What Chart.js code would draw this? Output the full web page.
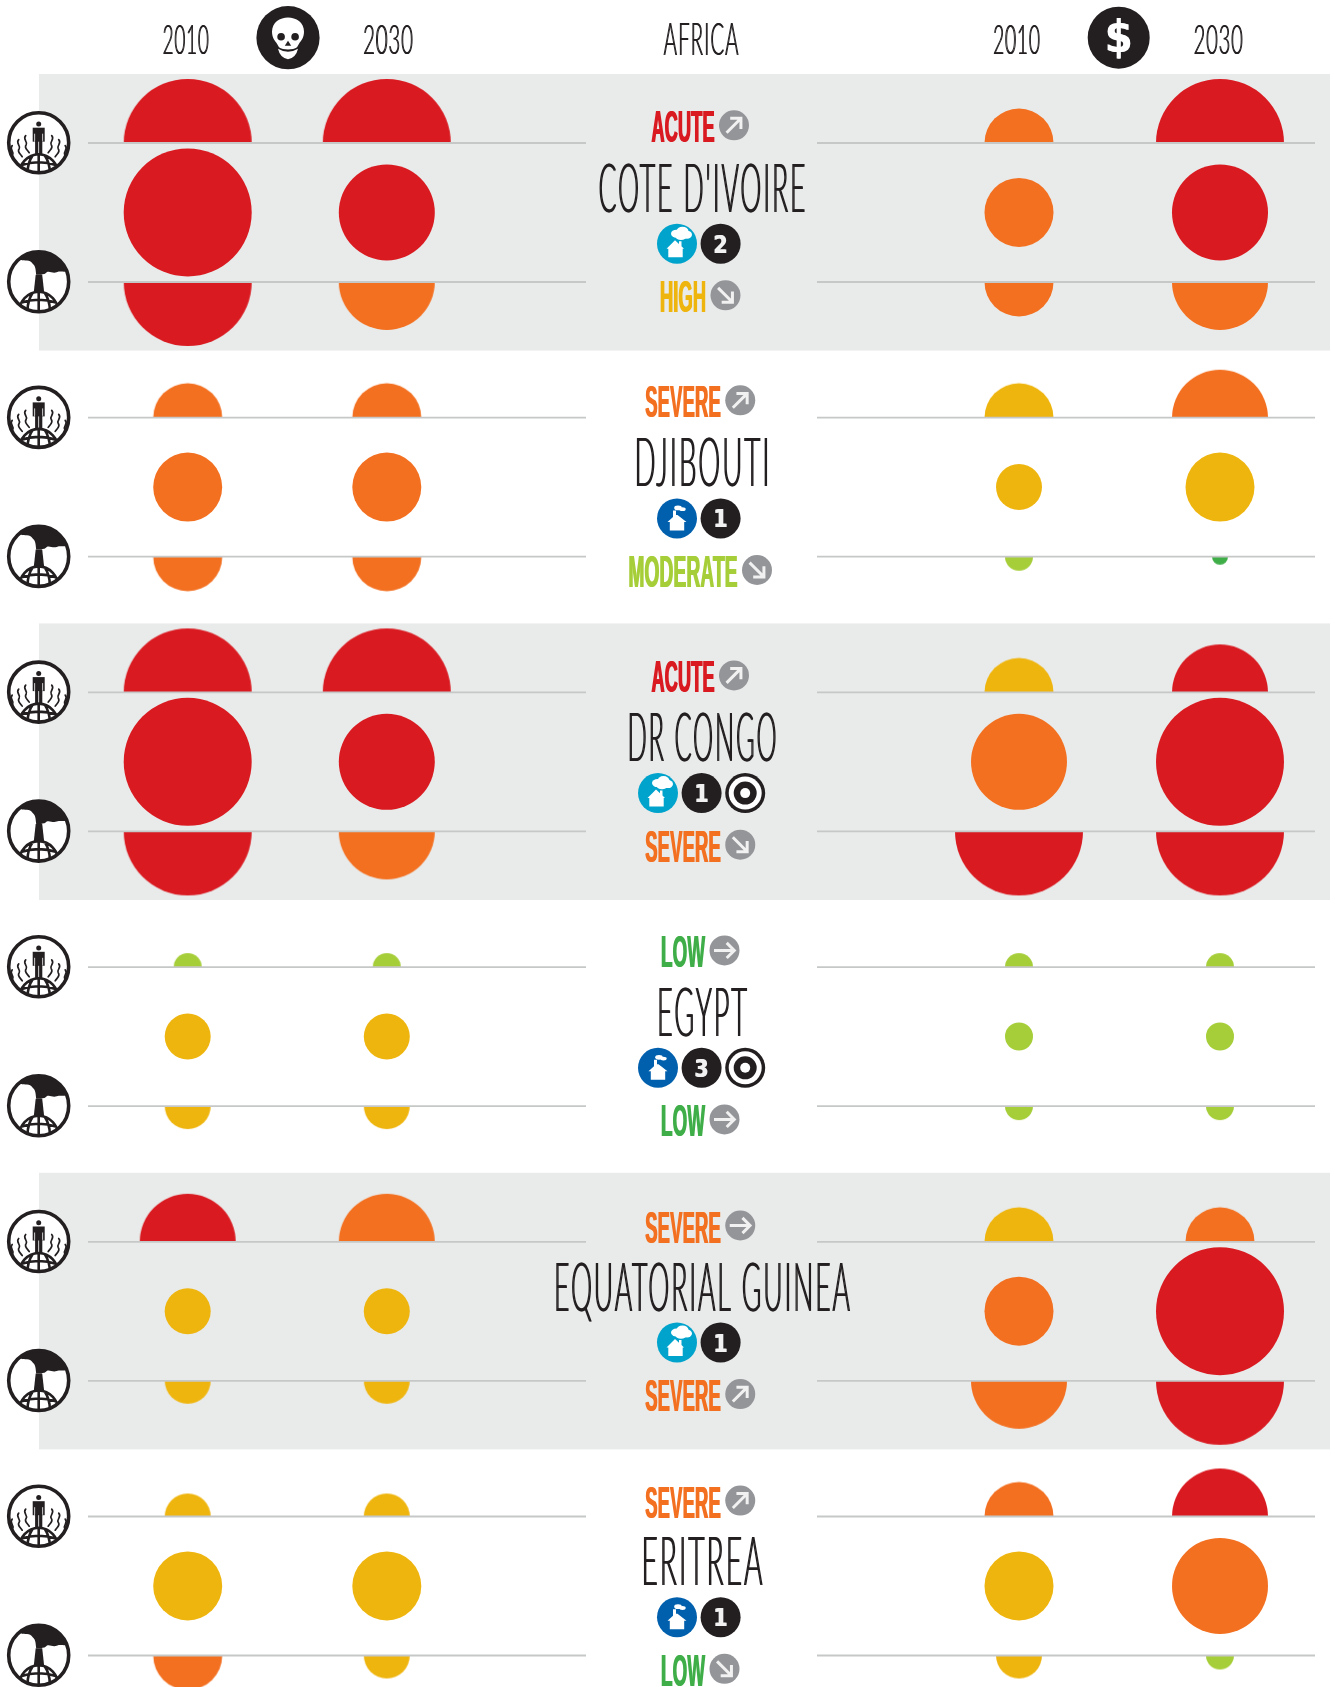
<!DOCTYPE html>
<html>
<head>
<meta charset="utf-8">
<title>Climate vulnerability: Africa</title>
<script src="https://cdn.jsdelivr.net/npm/chart.js@4/dist/chart.umd.min.js"></script>
<style>
html,body{margin:0;padding:0;background:#fff;}
#wrap{position:absolute;left:0;top:0;width:1335px;height:1687px;overflow:hidden;}
canvas{display:block;}
</style>
</head>
<body>
<div id="wrap"><canvas id="c" width="1335" height="1687"></canvas></div>
<script>
// ---------- data ----------
const regionName = 'AFRICA';
const years = ['2010', '2030'];
const countries = ["COTE D'IVOIRE", 'DJIBOUTI', 'DR CONGO', 'EGYPT', 'EQUATORIAL GUINEA', 'ERITREA'];

// Size classes (1 smallest .. 6 largest) and severity (L M H S A) for each country.
const deaths2010ClimateSize = [6, 4, 6, 2, 5, 3];
const deaths2010ClimateLevel = ['A', 'S', 'A', 'M', 'A', 'H'];
const deaths2010TotalSize = [6, 4, 6, 3, 3, 4];
const deaths2010TotalLevel = ['A', 'S', 'A', 'H', 'H', 'H'];
const deaths2010CarbonSize = [6, 4, 6, 3, 3, 4];
const deaths2010CarbonLevel = ['A', 'S', 'A', 'H', 'H', 'S'];

const deaths2030ClimateSize = [6, 4, 6, 2, 5, 3];
const deaths2030ClimateLevel = ['A', 'S', 'A', 'M', 'S', 'H'];
const deaths2030TotalSize = [5, 4, 5, 3, 3, 4];
const deaths2030TotalLevel = ['A', 'S', 'A', 'H', 'H', 'H'];
const deaths2030CarbonSize = [5, 4, 5, 3, 3, 3];
const deaths2030CarbonLevel = ['S', 'S', 'S', 'H', 'H', 'H'];

const cost2010ClimateSize = [4, 4, 4, 2, 4, 4];
const cost2010ClimateLevel = ['S', 'H', 'H', 'M', 'H', 'S'];
const cost2010TotalSize = [4, 3, 5, 2, 4, 4];
const cost2010TotalLevel = ['S', 'H', 'S', 'M', 'S', 'H'];
const cost2010CarbonSize = [4, 2, 6, 2, 5, 3];
const cost2010CarbonLevel = ['S', 'M', 'A', 'M', 'S', 'H'];

const cost2030ClimateSize = [6, 5, 5, 2, 4, 5];
const cost2030ClimateLevel = ['A', 'S', 'A', 'M', 'S', 'A'];
const cost2030TotalSize = [5, 4, 6, 2, 6, 5];
const cost2030TotalLevel = ['A', 'H', 'A', 'M', 'A', 'S'];
const cost2030CarbonSize = [5, 1, 6, 2, 6, 2];
const cost2030CarbonLevel = ['S', 'L', 'A', 'M', 'A', 'M'];

const climateLabel = ['ACUTE', 'SEVERE', 'ACUTE', 'LOW', 'SEVERE', 'SEVERE'];
const climateTrend = ['up', 'up', 'up', 'flat', 'flat', 'up'];
const carbonLabel = ['HIGH', 'MODERATE', 'SEVERE', 'LOW', 'SEVERE', 'LOW'];
const carbonTrend = ['down', 'down', 'down', 'flat', 'up', 'down'];
const houseKind = ['light', 'dark', 'light', 'dark', 'light', 'dark'];
const rankBadge = ['2', '1', '1', '3', '1', '1'];
const targetBadge = [false, false, true, true, false, false];

// ---------- style and layout ----------
const levelColor = {L:'#3FAE49', M:'#A6CE39', H:'#EFB50F', S:'#F37021', A:'#D91A21'};
const labelColor = {ACUTE:'#D91A21', SEVERE:'#F37021', HIGH:'#EFB50F', MODERATE:'#A6CE39', LOW:'#3FAE49'};
const labelWidth = {ACUTE:64, SEVERE:76.5, HIGH:47, MODERATE:110, LOW:45};
const nameWidth = [208, 136, 150, 91, 297, 122];
const sizeRadius = [0, 8, 14, 23, 34.5, 48, 64];
const columnX = [187.7, 386.8, 1019, 1220];
const rowTop = 143, rowStep = 274.7;
const tierDy = {climate:0, total:69.4, carbon:139};
const INK = '#231F20', BAND = '#E9EBEA', RULE = '#C6C8C8';
const THIN = 'Lato,"Liberation Sans Narrow",sans-serif';
const HEAVY = '"Liberation Sans Narrow","Liberation Sans",sans-serif';
const SLAB = '"DejaVu Sans",sans-serif';

const rowY = i => rowTop + rowStep * i;

// half-disc point styles, cached by radius, colour and side
const discCache = {};
function halfDisc(r, color, side) {
  const key = r + color + side;
  if (discCache[key]) return discCache[key];
  const c = document.createElement('canvas');
  c.width = c.height = 2 * Math.ceil(r) + 4;
  const g = c.getContext('2d');
  g.fillStyle = color;
  g.beginPath();
  if (side === 'up') g.arc(c.width/2, c.height/2, r, Math.PI, 2*Math.PI);
  else g.arc(c.width/2, c.height/2, r, 0, Math.PI);
  g.closePath();
  g.fill();
  return discCache[key] = c;
}

function bubbleSeries(name, colIdx, tier, sizes, levels) {
  const side = tier === 'climate' ? 'up' : tier === 'carbon' ? 'down' : null;
  return {
    type: 'bubble',
    label: name,
    order: 2,
    data: countries.map((_, i) => ({x: columnX[colIdx], y: rowY(i) + tierDy[tier], r: sizeRadius[sizes[i]]})),
    backgroundColor: levels.map(l => levelColor[l]),
    borderWidth: 0,
    hoverBorderWidth: 0,
    hoverRadius: 0,
    pointStyle: side ? sizes.map((s, i) => halfDisc(sizeRadius[s], levelColor[levels[i]], side)) : 'circle'
  };
}

function ruleSeries(tier) {
  const pts = [];
  countries.forEach((_, i) => {
    const y = rowY(i) + tierDy[tier];
    pts.push({x:88, y}, {x:586, y}, {x:null, y:null}, {x:817, y}, {x:1315, y}, {x:null, y:null});
  });
  return {type:'line', label:'rule '+tier, order:1, data:pts, borderColor:RULE, borderWidth:1.8,
          pointRadius:0, spanGaps:false, tension:0, fill:false};
}

// ---------- drawing helpers for text and pictograms ----------
// Squeezes a label to the measured width; "embolden" thickens the stems sideways.
function fitText(ctx, s, left, base, width, capH, weight, family, color, capRatio, embolden, tracking) {
  const px = capH / (capRatio || 0.729);
  ctx.save();
  ctx.font = `${weight} ${px}px ${family}`;
  ctx.fillStyle = color;
  ctx.textBaseline = 'alphabetic';
  ctx.textAlign = 'left';
  const sp = (tracking || 0) * px;
  ctx.letterSpacing = sp + 'px';
  const w = ctx.measureText(s).width - sp;
  const e = embolden || 0;
  ctx.translate(left, base);
  ctx.scale((width - e) / w, 1);
  if (e) { ctx.shadowColor = color; ctx.shadowOffsetX = e; ctx.shadowOffsetY = 0; ctx.shadowBlur = 0; }
  ctx.fillText(s, 0, 0);
  ctx.restore();
}

function disc(ctx, x, y, r, color) {
  ctx.fillStyle = color;
  ctx.beginPath();
  ctx.arc(x, y, r, 0, 2*Math.PI);
  ctx.fill();
}

function arrowIcon(ctx, x, y, trend) {
  disc(ctx, x, y, 15, '#939598');
  const a = trend === 'up' ? -Math.PI/4 : trend === 'down' ? Math.PI/4 : 0;
  ctx.save();
  ctx.translate(x, y);
  ctx.rotate(a);
  ctx.strokeStyle = '#F1F1F1';
  ctx.lineWidth = 3;
  ctx.lineCap = 'butt';
  ctx.lineJoin = 'miter';
  ctx.beginPath();
  ctx.moveTo(-10.5, 0); ctx.lineTo(8.5, 0);
  ctx.moveTo(2.2, -7.6); ctx.lineTo(9.8, 0); ctx.lineTo(2.2, 7.6);
  ctx.stroke();
  ctx.restore();
}

function houseIcon(ctx, x, y, kind) {
  disc(ctx, x, y, 20, kind === 'light' ? '#00A3CC' : '#0060AE');
  ctx.save();
  ctx.translate(x, y);
  ctx.fillStyle = '#fff';
  if (kind === 'light') {
    ctx.beginPath();
    ctx.moveTo(-10.5, 5); ctx.lineTo(-2, -3.5); ctx.lineTo(2, 0.2); ctx.lineTo(2, -2.5); ctx.lineTo(4.5, -2.5);
    ctx.lineTo(4.5, 2.5); ctx.lineTo(7, 5); ctx.lineTo(5.7, 5); ctx.lineTo(5.7, 13.5); ctx.lineTo(-8.7, 13.5); ctx.lineTo(-8.7, 5);
    ctx.closePath(); ctx.fill();
    [[-0.5,-10,5.5,4],[5.5,-12.5,6,4.5],[10,-9,5,4],[4,-7,5.5,3.2]].forEach(([a,b,c,d]) => {
      ctx.beginPath(); ctx.ellipse(a,b,c,d,0,0,2*Math.PI); ctx.fill();
    });
  } else {
    ctx.beginPath();
    ctx.moveTo(-9.5, 3.5); ctx.lineTo(-4, -1.5); ctx.lineTo(-4, -8); ctx.lineTo(-1, -8); ctx.lineTo(-1, -3.5); ctx.lineTo(0.5, -3.5);
    ctx.lineTo(9.5, 3.5); ctx.lineTo(7.2, 3.5); ctx.lineTo(7.2, 12); ctx.lineTo(-7.2, 12); ctx.lineTo(-7.2, 3.5);
    ctx.closePath(); ctx.fill();
    [[1,-10.5,3.8,2.4],[5.5,-9.2,3.2,1.9]].forEach(([a,b,c,d]) => {
      ctx.beginPath(); ctx.ellipse(a,b,c,d,0,0,2*Math.PI); ctx.fill();
    });
  }
  ctx.restore();
}

function rankIcon(ctx, x, y, s) {
  disc(ctx, x, y, 20, INK);
  fitText(ctx, s, x - 7.5, y + 9, 15, 18, 'bold', SLAB, '#F1F1F1', 0.729, 1);
}

function targetIcon(ctx, x, y) {
  disc(ctx, x, y, 20, INK);
  disc(ctx, x, y, 16.5, '#fff');
  disc(ctx, x, y, 11.5, INK);
  disc(ctx, x, y, 5, '#fff');
}

function globeDome(ctx, cx, topY, w) {
  ctx.strokeStyle = INK;
  ctx.lineWidth = 2.6;
  ctx.beginPath();
  ctx.ellipse(cx, topY + 22, w, 22, 0, Math.PI, 2*Math.PI);
  ctx.moveTo(cx, topY); ctx.lineTo(cx, topY + 22);
  ctx.moveTo(cx - 6, topY + 1); ctx.quadraticCurveTo(cx - 12, topY + 10, cx - 11, topY + 22);
  ctx.moveTo(cx + 6, topY + 1); ctx.quadraticCurveTo(cx + 12, topY + 10, cx + 11, topY + 22);
  ctx.moveTo(cx - w + 2, topY + 11); ctx.quadraticCurveTo(cx, topY + 5, cx + w - 2, topY + 11);
  ctx.stroke();
}

function ringClip(ctx, x, y, r) {
  disc(ctx, x, y, r, '#fff');
  ctx.save();
  ctx.beginPath();
  ctx.arc(x, y, r, 0, 2*Math.PI);
  ctx.clip();
}

function ringStroke(ctx, x, y, r) {
  ctx.strokeStyle = INK;
  ctx.lineWidth = 3.6;
  ctx.beginPath();
  ctx.arc(x, y, r, 0, 2*Math.PI);
  ctx.stroke();
}

function personIcon(ctx, x, y) {
  const r = 30;
  ringClip(ctx, x, y, r);
  globeDome(ctx, x, y + 11.5, 20);
  disc(ctx, x, y - 18.7, 2.5, INK);
  ctx.fillStyle = INK;
  ctx.fillRect(x - 6, y - 15, 12, 14);        // shoulders and arms
  ctx.fillStyle = '#fff';
  ctx.fillRect(x - 4.4, y - 9, 0.8, 8);
  ctx.fillRect(x + 3.6, y - 9, 0.8, 8);
  ctx.fillStyle = INK;
  ctx.fillRect(x - 3.6, y - 2, 3.2, 14);      // legs
  ctx.fillRect(x + 0.4, y - 2, 3.2, 14);
  ctx.strokeStyle = INK;
  ctx.lineWidth = 1.7;
  ctx.lineCap = 'round';
  [[13,-7],[20,-3],[26.5,3]].forEach(([dx, dy]) => {
    [-1, 1].forEach(m => {
      const bx = x + m * dx, by = y + dy;
      ctx.beginPath();
      ctx.moveTo(bx, by);
      ctx.bezierCurveTo(bx + m*3.5, by + 3.5, bx - m*2.5, by + 6, bx - m*0.5, by + 9);
      ctx.bezierCurveTo(bx + m*2, by + 12, bx - m*1.5, by + 14, bx - m*3.5, by + 17);
      ctx.stroke();
    });
  });
  ctx.restore();
  ringStroke(ctx, x, y, r);
}

function smokeIcon(ctx, x, y) {
  const r = 30;
  ringClip(ctx, x, y, r);
  ctx.fillStyle = INK;
  ctx.beginPath(); // plume filling the top of the disc
  ctx.moveTo(x - 31, y - 31);
  ctx.lineTo(x + 31, y - 31);
  ctx.lineTo(x + 31, y - 11);
  ctx.bezierCurveTo(x + 26, y - 9, x + 22, y - 11, x + 18, y - 9.5);
  ctx.bezierCurveTo(x + 14, y - 8, x + 11, y - 11, x + 8, y - 9.5);
  ctx.bezierCurveTo(x + 6, y - 7, x + 4, y - 8, x + 2.5, y - 7);
  ctx.lineTo(x - 2.5, y - 7);
  ctx.bezierCurveTo(x - 3, y - 11, x - 3, y - 16, x - 6, y - 18);
  ctx.bezierCurveTo(x - 9, y - 23, x - 14, y - 20, x - 18, y - 22);
  ctx.bezierCurveTo(x - 22, y - 21, x - 25, y - 22, x - 31, y - 19);
  ctx.closePath();
  ctx.fill();
  ctx.beginPath(); // chimney
  ctx.moveTo(x - 3, y - 7); ctx.lineTo(x + 3.5, y - 7); ctx.lineTo(x + 5.5, y + 11); ctx.lineTo(x - 5, y + 11);
  ctx.closePath(); ctx.fill();
  globeDome(ctx, x, y + 10, 20);
  ctx.restore();
  ringStroke(ctx, x, y, r);
}

function skullIcon(ctx, x, y) {
  disc(ctx, x, y, 31.6, INK);
  ctx.save();
  ctx.translate(x, y);
  ctx.fillStyle = '#fff';
  ctx.beginPath();
  ctx.moveTo(-16, -6);
  ctx.bezierCurveTo(-16, -25, 16, -25, 16, -6);
  ctx.bezierCurveTo(16, 0, 13, 3, 11, 6);
  ctx.lineTo(9, 9.5);
  ctx.bezierCurveTo(5, 12.5, -5, 12.5, -9, 9.5);
  ctx.lineTo(-11, 6);
  ctx.bezierCurveTo(-13, 3, -16, 0, -16, -6);
  ctx.closePath();
  ctx.fill();
  ctx.beginPath(); // jaw
  ctx.moveTo(-10, 11);
  ctx.quadraticCurveTo(0, 17, 10, 11);
  ctx.quadraticCurveTo(8, 20, 0, 21.5);
  ctx.quadraticCurveTo(-8, 20, -10, 11);
  ctx.closePath();
  ctx.fill();
  disc(ctx, -6.9, -1, 3.8, INK);
  disc(ctx, 7.1, -1, 3.8, INK);
  ctx.fillStyle = INK;
  ctx.beginPath();
  ctx.moveTo(0, 3); ctx.lineTo(3.2, 8); ctx.lineTo(-3.2, 8);
  ctx.closePath();
  ctx.fill();
  ctx.restore();
}

// ---------- plugins ----------
const bandPlugin = {
  id: 'bands',
  beforeDatasetsDraw(chart) {
    const ctx = chart.ctx, sx = chart.scales.x, sy = chart.scales.y;
    ctx.save();
    ctx.fillStyle = BAND;
    countries.forEach((_, i) => {
      if (i % 2) return;
      const top = sy.getPixelForValue(rowY(i) - 69);
      const bot = sy.getPixelForValue(rowY(i) + 207.6);
      ctx.fillRect(sx.getPixelForValue(39), top, sx.getPixelForValue(1330) - sx.getPixelForValue(39), bot - top);
    });
    ctx.restore();
  }
};

const annotationPlugin = {
  id: 'annotations',
  afterDatasetsDraw(chart) {
    const ctx = chart.ctx;
    // header
    fitText(ctx, years[0], 162.3, 54, 47, 30, '300', THIN, INK, 0.72, 0.8, 0.04);
    fitText(ctx, years[1], 362.7, 54, 50.6, 30, '300', THIN, INK, 0.72, 0.8, 0.04);
    fitText(ctx, years[0], 992.7, 54, 47.6, 30, '300', THIN, INK, 0.72, 0.8, 0.04);
    fitText(ctx, years[1], 1193.3, 54, 50, 30, '300', THIN, INK, 0.72, 0.8, 0.04);
    fitText(ctx, regionName, 663.3, 55, 75.7, 33, '300', THIN, INK, 0.72, 0.8, 0.05);
    skullIcon(ctx, 288, 37.7);
    disc(ctx, 1118.7, 37.7, 31, INK);
    fitText(ctx, '$', 1104.5, 51.5, 28.5, 34.2, 'bold', SLAB, '#fff', 0.76, 1);

    countries.forEach((name, i) => {
      const y0 = rowY(i);
      personIcon(ctx, 38.7, y0 - 0.3);
      smokeIcon(ctx, 38.7, y0 + 138.7);

      const drawLabel = (lab, trend, base) => {
        const w = labelWidth[lab];
        const left = 700 - (w + 34) / 2;
        fitText(ctx, lab, left, base, w, 30.6, 'bold', HEAVY, labelColor[lab], 0.688, 0.9, 0.01);
        arrowIcon(ctx, left + w + 19, base - 17, trend);
      };
      drawLabel(climateLabel[i], climateTrend[i], y0 - 0.7 + i * 0.35);
      drawLabel(carbonLabel[i], carbonTrend[i], y0 + 169.3);

      // country name
      fitText(ctx, name, 702 - nameWidth[i] / 2, y0 + 68.7, nameWidth[i], 48, '300', THIN, INK, 0.72, 1, 0.07);

      // badges
      const n = targetBadge[i] ? 3 : 2;
      const bx = n === 3 ? 658 : 677;
      const by = y0 + 100.7;
      houseIcon(ctx, bx, by, houseKind[i]);
      rankIcon(ctx, bx + 43.6, by, rankBadge[i]);
      if (targetBadge[i]) targetIcon(ctx, bx + 87.2, by);
    });
  }
};

// ---------- chart ----------
new Chart(document.getElementById('c'), {
  data: {
    datasets: [
      bubbleSeries('Deaths 2010 climate', 0, 'climate', deaths2010ClimateSize, deaths2010ClimateLevel),
      bubbleSeries('Deaths 2010 total', 0, 'total', deaths2010TotalSize, deaths2010TotalLevel),
      bubbleSeries('Deaths 2010 carbon', 0, 'carbon', deaths2010CarbonSize, deaths2010CarbonLevel),
      bubbleSeries('Deaths 2030 climate', 1, 'climate', deaths2030ClimateSize, deaths2030ClimateLevel),
      bubbleSeries('Deaths 2030 total', 1, 'total', deaths2030TotalSize, deaths2030TotalLevel),
      bubbleSeries('Deaths 2030 carbon', 1, 'carbon', deaths2030CarbonSize, deaths2030CarbonLevel),
      bubbleSeries('Cost 2010 climate', 2, 'climate', cost2010ClimateSize, cost2010ClimateLevel),
      bubbleSeries('Cost 2010 total', 2, 'total', cost2010TotalSize, cost2010TotalLevel),
      bubbleSeries('Cost 2010 carbon', 2, 'carbon', cost2010CarbonSize, cost2010CarbonLevel),
      bubbleSeries('Cost 2030 climate', 3, 'climate', cost2030ClimateSize, cost2030ClimateLevel),
      bubbleSeries('Cost 2030 total', 3, 'total', cost2030TotalSize, cost2030TotalLevel),
      bubbleSeries('Cost 2030 carbon', 3, 'carbon', cost2030CarbonSize, cost2030CarbonLevel),
      ruleSeries('climate'),
      ruleSeries('carbon')
    ]
  },
  options: {
    responsive: false,
    animation: false,
    events: [],
    layout: {padding: 0, autoPadding: false},
    plugins: {legend: {display: false}, tooltip: {enabled: false}, title: {display: false}},
    scales: {
      x: {type: 'linear', min: 0, max: 1335, display: false},
      y: {type: 'linear', min: 0, max: 1687, reverse: true, display: false}
    }
  },
  plugins: [bandPlugin, annotationPlugin]
});
</script>
</body>
</html>
